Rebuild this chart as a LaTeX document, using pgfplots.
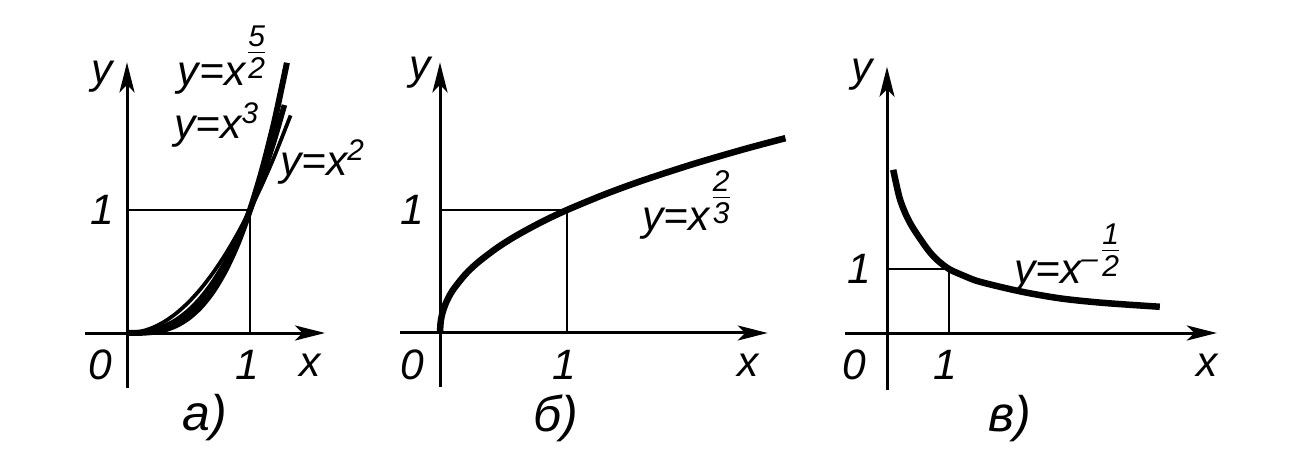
\documentclass[border=0pt]{standalone}
\usepackage{fontspec}
\setmainfont{Liberation Sans}
\usepackage{amsmath}
\usepackage{pgfplots}
\pgfplotsset{compat=1.18}
\usetikzlibrary{arrows.meta}
\newcommand\fr[2]{\raisebox{1.0ex}{$\genfrac{}{}{0.6pt}{}{\text{\fontsize{12}{12}\selectfont\itshape #1}}{\text{\fontsize{12}{12}\selectfont\itshape #2}}$}}
\pgfplotsset{panel/.style={hide axis, clip=false, anchor=south west}}
\tikzset{
  ax/.style={line width=1.2pt, -{Stealth[length=12pt,width=6pt,inset=3pt]}},
  guide/.style={line width=0.6pt},
  lbl/.style={font=\fontsize{17}{20}\selectfont\itshape, inner sep=0pt},
}
\begin{document}
\begin{tikzpicture}
\useasboundingbox (0,0) rectangle (516.4pt,184.8pt);
% ---------- panel a ----------
\begin{axis}[panel, at={(26.2pt,27.0pt)}, x=49.2pt, y=49.2pt,
  xmin=-0.5, xmax=1.75, ymin=-0.5, ymax=2.3]
\draw[ax] (-0.34,0) -- (1.61,0);
\draw[ax] (0,-0.45) -- (0,2.2);
\draw[guide] (0,1) -- (1,1);
\draw[line width=0.9pt] (1,0) -- (1,1);
\addplot[line width=1.5pt, smooth] coordinates {
 (0,0) (0.1,0.01) (0.2,0.04) (0.3,0.09) (0.4,0.16) (0.5,0.25) (0.6,0.36)
 (0.7,0.49) (0.8,0.64) (0.9,0.81) (1,1) (1.1,1.21) (1.2,1.44) (1.33,1.769)};
\addplot[line width=2.2pt, smooth] coordinates {
 (0,0) (0.1,0.00316) (0.2,0.0179) (0.3,0.0493) (0.4,0.1012) (0.5,0.1768)
 (0.6,0.2789) (0.7,0.41) (0.8,0.5724) (0.9,0.7684) (1,1) (1.1,1.269)
 (1.2,1.5774) (1.28,1.8537)};
\addplot[line width=2.4pt, smooth] coordinates {
 (0,0) (0.1,0.001) (0.2,0.008) (0.3,0.027) (0.4,0.064) (0.5,0.125) (0.6,0.216)
 (0.7,0.343) (0.8,0.512) (0.9,0.729) (1,1) (1.1,1.331) (1.2,1.728) (1.3,2.197)};
\node[lbl] at (-0.20,2.08) {y};
\node[lbl] at (-0.22,-0.26) {0};
\node[lbl] at (0.98,-0.26) {1};
\node[lbl] at (1.49,-0.26) {x};
\node[lbl] at (-0.20,1.0) {1};
\node[lbl] at (0.78,2.22) {y=x\fr{5}{2}};
\node[lbl] at (0.73,1.69) {y=x\textsuperscript{3}};
\node[lbl] at (1.59,1.39) {y=x\textsuperscript{2}};
\node[lbl, font=\fontsize{20}{22}\selectfont\itshape] at (0.63,-0.69) {а)};
\end{axis}
% ---------- panel b ----------
\begin{axis}[panel, at={(150.6pt,27.0pt)}, x=50.8pt, y=49.2pt,
  xmin=-0.5, xmax=2.9, ymin=-0.5, ymax=2.3]
\draw[ax] (-0.315,0) -- (2.58,0);
\draw[ax] (0,-0.44) -- (0,2.2);
\draw[guide] (0,1) -- (1,1) -- (1,0);
\addplot[line width=2.6pt, smooth] coordinates {
 (0,0) (0.005,0.0874) (0.02,0.1654) (0.05,0.252) (0.1,0.3468) (0.2,0.477)
 (0.3,0.5748) (0.45,0.6926) (0.6,0.7906) (0.8,0.9025) (1,1) (1.3,1.1283)
 (1.6,1.2414) (2.0,1.3755) (2.4,1.4959) (2.72,1.584)};
\node[lbl] at (-0.16,2.12) {y};
\node[lbl] at (-0.22,1.0) {1};
\node[lbl] at (-0.22,-0.26) {0};
\node[lbl] at (0.98,-0.26) {1};
\node[lbl] at (2.43,-0.26) {x};
\node[lbl] at (1.95,1.04) {y=x\fr{2}{3}};
\node[lbl, font=\fontsize{20}{22}\selectfont\itshape] at (0.91,-0.69) {б)};
\end{axis}
% ---------- panel c ----------
\begin{axis}[panel, at={(330pt,26pt)}, x=24.8pt, y=25.6pt,
  xmin=-1, xmax=5.6, ymin=-1, ymax=4.4]
\draw[ax] (-0.68,0) -- (5.32,0);
\draw[ax] (0,-0.89) -- (0,4.16);
\draw[guide] (0,1) -- (1,1) -- (1,0);
\addplot[line width=2.6pt, smooth] coordinates {
 (0.1,2.55) (0.2,2.12) (0.3,1.86) (0.42,1.64) (0.645,1.32) (0.8,1.15) (1,1.0)
 (1.25,0.89) (1.5,0.8) (2.15,0.65) (2.8,0.54) (3.5,0.47) (4.4,0.41)};
\node[lbl] at (-0.4,4.03) {y};
\node[lbl] at (-0.44,1.0) {1};
\node[lbl] at (-0.52,-0.5) {0};
\node[lbl] at (0.94,-0.5) {1};
\node[lbl] at (5.16,-0.5) {x};
\node[lbl] at (2.92,1.17) {y=x\textsuperscript{–}\fr{1}{2}};
\node[lbl, font=\fontsize{20}{22}\selectfont\itshape] at (1.98,-1.33) {в)};
\end{axis}
\end{tikzpicture}
\end{document}
